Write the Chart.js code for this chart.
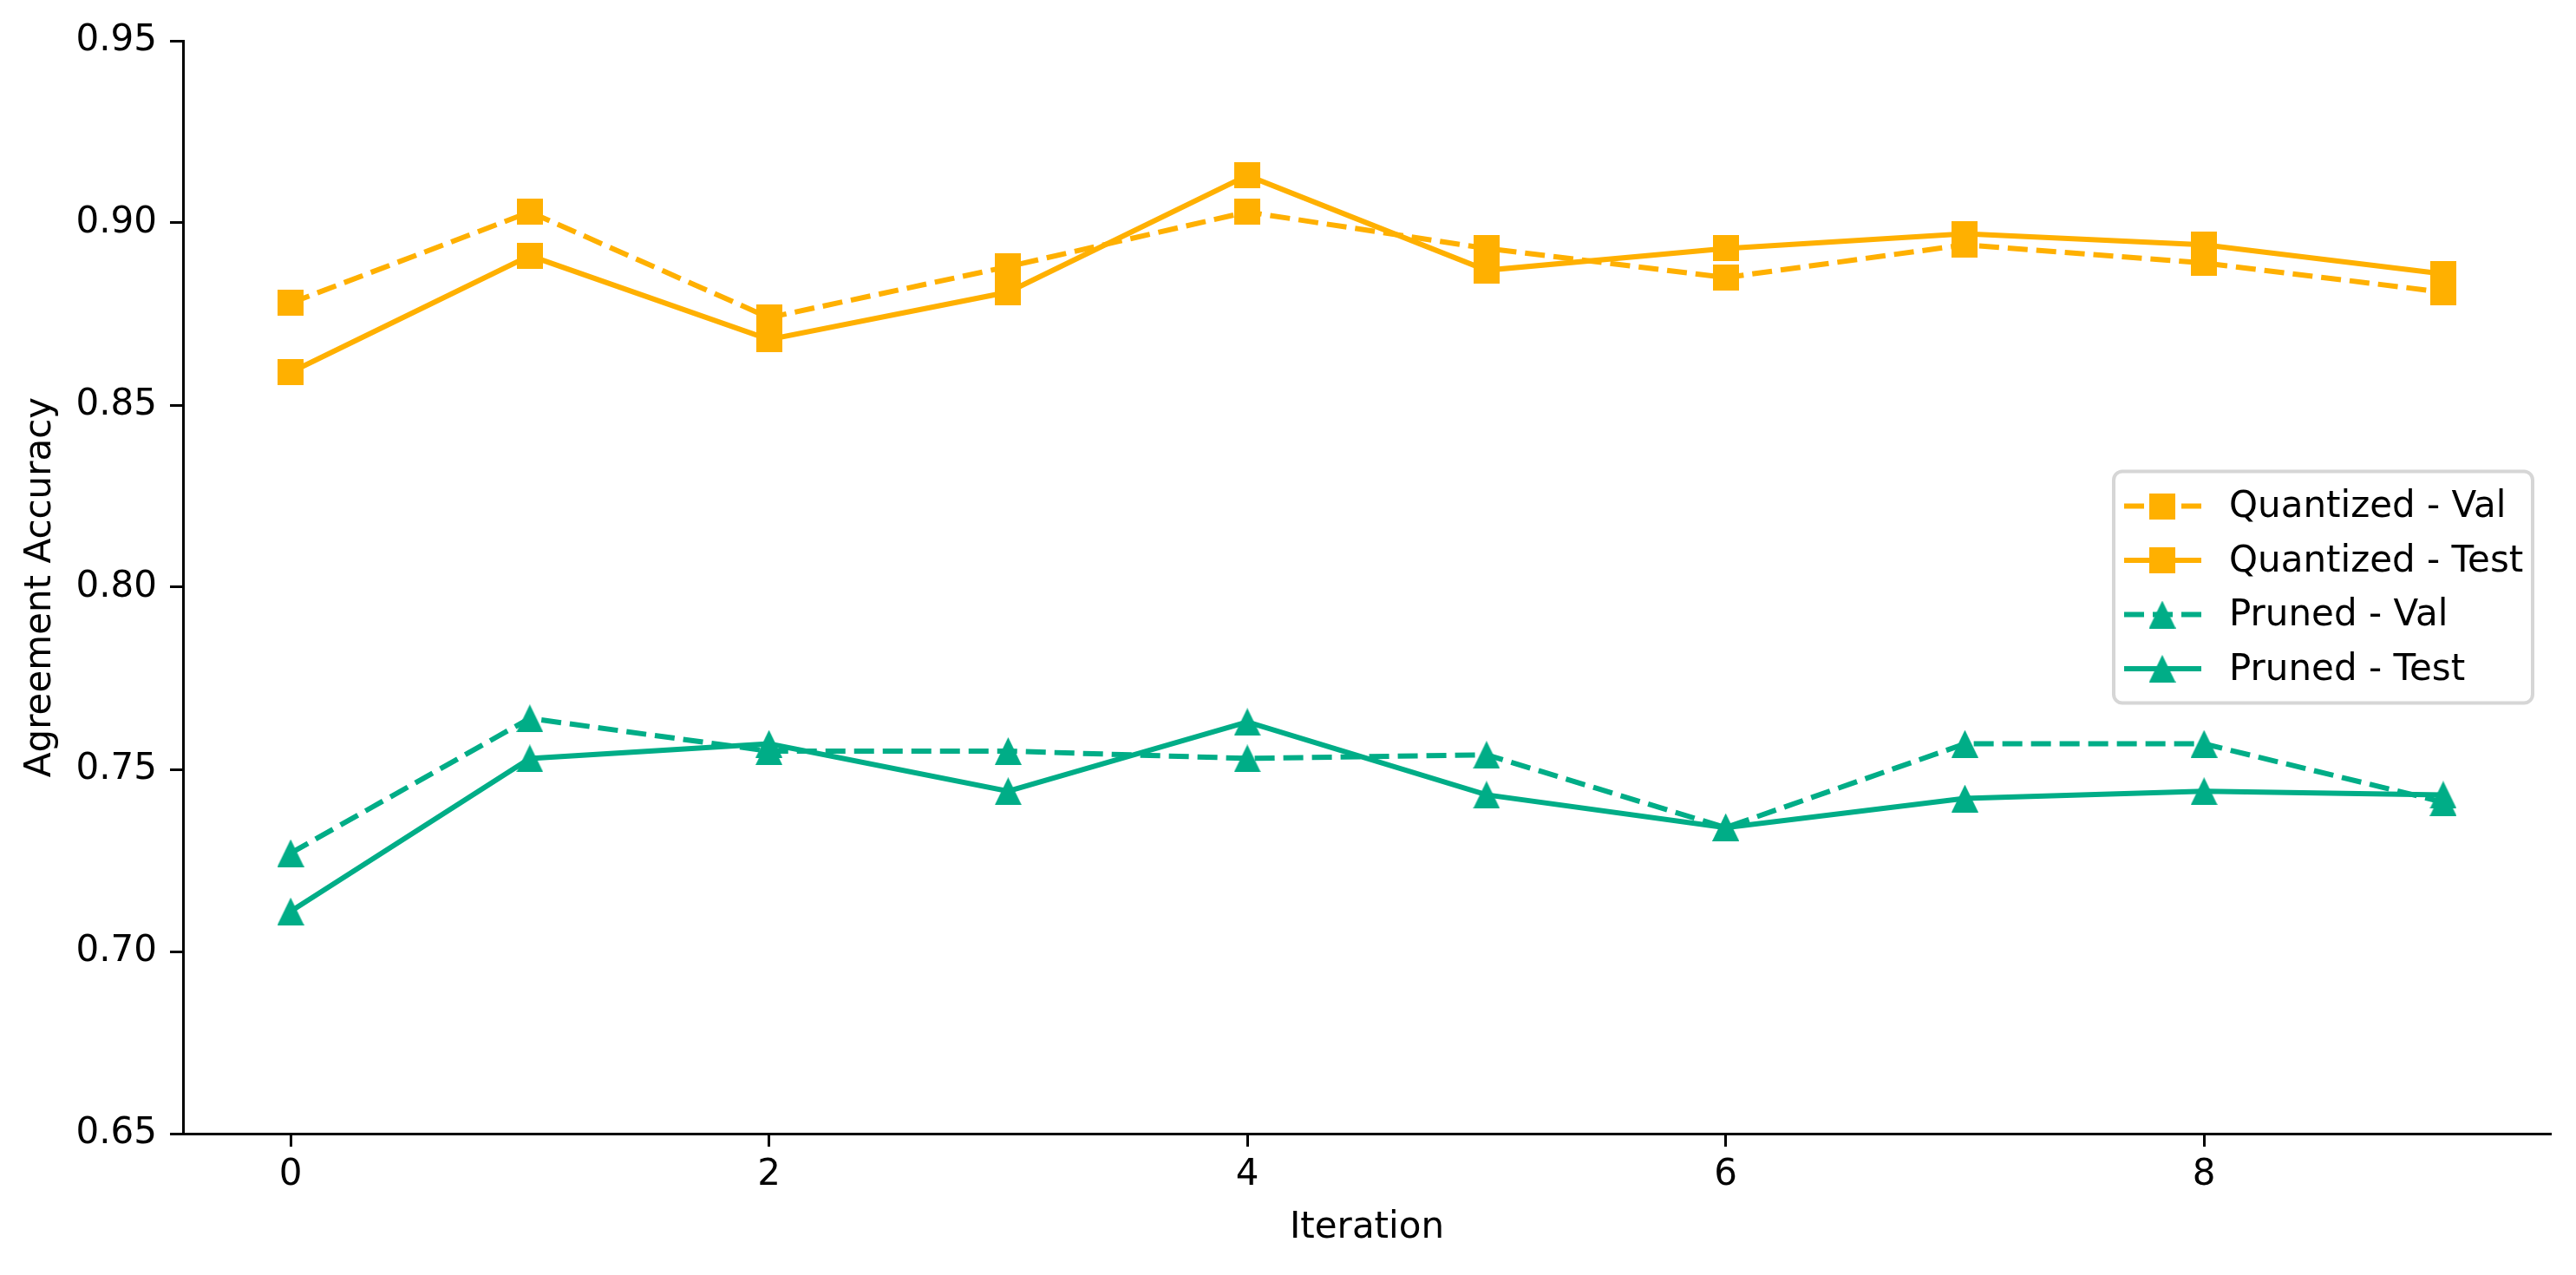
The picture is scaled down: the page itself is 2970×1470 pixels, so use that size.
<!DOCTYPE html>
<html>
<head>
<meta charset="utf-8">
<script src="https://cdn.jsdelivr.net/npm/chart.js@4"></script>
<style>
    body { margin: 0; background: #fff; }
    #chart { display: block; }
</style>
</head>
<body>
<canvas id="chart" width="2970" height="1470"></canvas>
<script>
    // data
    const iterations = [0, 1, 2, 3, 4, 5, 6, 7, 8, 9]
    const quantVal = [0.878, 0.903, 0.874, 0.888, 0.903, 0.893, 0.885, 0.894, 0.889, 0.881]
    const quantTest = [0.859, 0.891, 0.868, 0.881, 0.913, 0.887, 0.893, 0.897, 0.894, 0.886]
    const prunedVal = [0.727, 0.764, 0.755, 0.755, 0.753, 0.754, 0.734, 0.757, 0.757, 0.741]
    const prunedTest = [0.711, 0.753, 0.757, 0.744, 0.763, 0.743, 0.734, 0.742, 0.744, 0.743]
    const seriesLabels = ['Quantized - Val', 'Quantized - Test', 'Pruned - Val', 'Pruned - Test']
    const xTicks = [0, 2, 4, 6, 8]
    const yTicks = [0.65, 0.70, 0.75, 0.80, 0.85, 0.90, 0.95]

    const ORANGE = '#FFB000'
    const GREEN = '#00AD87'
    const FONT = 'DejaVu Sans'

    // matplotlib-like markers as small canvases
    function squareMarker(color) {
        let c = document.createElement('canvas')
        c.width = 30
        c.height = 30
        let ctx = c.getContext('2d')
        ctx.fillStyle = color
        ctx.fillRect(0, 0, 30, 30)
        return c
    }

    function triangleMarker(color) {
        let c = document.createElement('canvas')
        c.width = 31
        c.height = 32
        let ctx = c.getContext('2d')
        ctx.fillStyle = color
        ctx.beginPath()
        ctx.moveTo(15.5, 0)
        ctx.lineTo(31, 32)
        ctx.lineTo(0, 32)
        ctx.closePath()
        ctx.fill()
        return c
    }

    const sq = squareMarker(ORANGE)
    const tri = triangleMarker(GREEN)

    function toPoints(values) {
        return values.map((v, i) => ({ x: iterations[i], y: v }))
    }

    function makeSet(i, values, color, marker, dashed) {
        return {
            label: seriesLabels[i],
            data: toPoints(values),
            borderColor: color,
            backgroundColor: color,
            borderWidth: 6,
            borderDash: dashed ? [23, 10] : [],
            pointStyle: marker,
            pointRadius: 15,
            pointHoverRadius: 15,
            tension: 0,
            fill: false,
            order: 3 - i
        }
    }

    // legend drawn by hand, inside the plot, centre right
    const legendBox = {
        id: 'legendBox',
        afterDatasetsDraw(chart) {
            const ctx = chart.ctx
            const area = chart.chartArea
            const w = 483, h = 267
            const left = area.right - 21 - w
            const top = (area.top + area.bottom) / 2 - h / 2

            ctx.save()
            ctx.beginPath()
            ctx.roundRect(left, top, w, h, 10)
            ctx.fillStyle = 'rgba(255,255,255,0.8)'
            ctx.fill()
            ctx.lineWidth = 4
            ctx.strokeStyle = '#d6d6d6'
            ctx.stroke()

            chart.data.datasets.forEach((ds, i) => {
                const cy = top + 40 + i * 62.5
                ctx.beginPath()
                ctx.setLineDash(ds.borderDash)
                ctx.lineWidth = ds.borderWidth
                ctx.strokeStyle = ds.borderColor
                ctx.moveTo(left + 12, cy)
                ctx.lineTo(left + 101, cy)
                ctx.stroke()
                ctx.setLineDash([])
                const m = ds.pointStyle
                ctx.drawImage(m, left + 56 - m.width / 2, cy - m.height / 2)

                ctx.fillStyle = '#000'
                ctx.font = '42px "' + FONT + '"'
                ctx.textBaseline = 'middle'
                ctx.textAlign = 'left'
                ctx.fillText(ds.label, left + 133, cy + 2)
            })
            ctx.restore()
        }
    }

    const axisLook = {
        grid: {
            display: true,
            drawOnChartArea: false,
            drawTicks: true,
            tickLength: 15,
            tickWidth: 3,
            tickColor: '#000'
        },
        border: { display: true, color: '#000', width: 3 }
    }

    new Chart(document.getElementById('chart').getContext('2d'), {
        type: 'line',
        data: {
            datasets: [
                makeSet(0, quantVal, ORANGE, sq, true),
                makeSet(1, quantTest, ORANGE, sq, false),
                makeSet(2, prunedVal, GREEN, tri, true),
                makeSet(3, prunedTest, GREEN, tri, false)
            ]
        },
        plugins: [legendBox],
        options: {
            responsive: false,
            animation: false,
            devicePixelRatio: 1,
            layout: { padding: { top: 47, right: 29, left: 0, bottom: 0 } },
            plugins: {
                legend: { display: false },
                tooltip: { enabled: false }
            },
            scales: {
                x: {
                    type: 'linear',
                    min: -0.45,
                    max: 9.45,
                    ...axisLook,
                    afterBuildTicks: axis => { axis.ticks = xTicks.map(v => ({ value: v })) },
                    afterFit: scale => { scale.height = 163 },
                    ticks: {
                        color: '#000',
                        padding: 8,
                        maxRotation: 0,
                        font: { family: FONT, size: 42 },
                        callback: v => String(v)
                    },
                    title: {
                        display: true,
                        text: 'Iteration',
                        color: '#000',
                        font: { family: FONT, size: 42 },
                        padding: { top: 0, bottom: 29 }
                    }
                },
                y: {
                    min: 0.65,
                    max: 0.95,
                    ...axisLook,
                    afterBuildTicks: axis => { axis.ticks = yTicks.map(v => ({ value: v })) },
                    afterFit: scale => { scale.width = 211 },
                    ticks: {
                        color: '#000',
                        padding: 15,
                        font: { family: FONT, size: 42 },
                        callback: v => Number(v).toFixed(2)
                    },
                    title: {
                        display: true,
                        text: 'Agreement Accuracy',
                        color: '#000',
                        font: { family: FONT, size: 42 },
                        padding: { top: 22, bottom: 0 }
                    }
                }
            }
        }
    });
</script>
</body>
</html>
